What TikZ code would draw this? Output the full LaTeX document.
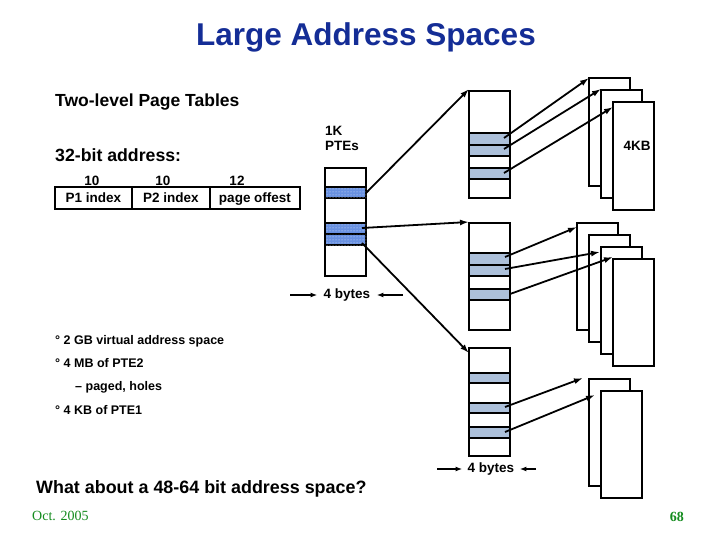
\documentclass[tikz,border=0pt]{standalone}
\usepackage{fontspec}
\setmainfont{Liberation Sans}
\newfontfamily\seriff{Liberation Serif}
\usetikzlibrary{arrows.meta,patterns}
\definecolor{titleblue}{RGB}{20,45,150}
\definecolor{slidegreen}{RGB}{20,140,30}
\definecolor{pteone}{RGB}{105,145,225}
\definecolor{ptetwo}{RGB}{172,192,218}
\tikzset{
  tbl/.style={draw, line width=2pt, fill=white},
  rowa/.style={draw, line width=2pt, fill=pteone, postaction={pattern=dots, pattern color=white!80!pteone}},
  rowb/.style={draw, line width=2pt, fill=ptetwo},
  pg/.style={draw, line width=2pt, fill=white},
  ptr/.style={line width=1.8pt, -{Latex[length=9pt,width=6pt]}},
  sptr/.style={line width=1.6pt, -{Latex[length=7pt,width=5pt]}},
  lbl/.style={font=\bfseries\fontsize{13.5}{15}\selectfont, inner sep=0pt},
  bul/.style={font=\bfseries\fontsize{12.5}{14}\selectfont, anchor=base west, inner sep=0pt},
}
\begin{document}
\begin{tikzpicture}[x=1pt,y=-1pt]
\useasboundingbox[fill=white] (0,0) rectangle (720,540);
% titles
\node[text=titleblue, font=\bfseries\fontsize{31.5}{34}\selectfont, inner sep=0pt] (title) at (366,37) {Large Address Spaces};
\node[font=\bfseries\fontsize{17.5}{19}\selectfont, anchor=base west, inner sep=0pt] (two) at (55,107) {Two-level Page Tables};
\node[font=\bfseries\fontsize{17.7}{19}\selectfont, anchor=base west, inner sep=0pt] (bits) at (55,162) {32-bit address:};
% address boxes
\draw[line width=1.8pt] (55,187) rectangle (132,209);
\draw[line width=1.8pt] (132,187) rectangle (210,209);
\draw[line width=1.8pt] (210,187) rectangle (300,209);
\node[lbl, anchor=base] (p1) at (93.5,203) {P1 index};
\node[lbl, anchor=base] (p2) at (171,203) {P2 index};
\node[lbl, anchor=base] (po) at (255,203) {page offest};
\node[lbl, anchor=base] (n1) at (92,186) {10};
\node[lbl, anchor=base] (n2) at (163,186) {10};
\node[lbl, anchor=base] (n3) at (237,186) {12};
% 1K PTEs
\node[lbl, anchor=north west, align=left] (kpte) at (325,126) {1K\\PTEs};
% PTE1 table
\draw[tbl] (325,168) rectangle (366,276);
\draw[rowa] (325,187) rectangle (366,198);
\draw[rowa] (325,223) rectangle (366,234);
\draw[rowa] (325,234) rectangle (366,245);
\coordinate (a1) at (366,193);
\coordinate (a2) at (362,228);
\coordinate (a3) at (362,243);
% PTE2 tables
\draw[tbl] (469,91) rectangle (510,198);
\draw[rowb] (469,133) rectangle (510,145);
\draw[rowb] (469,145) rectangle (510,156);
\draw[rowb] (469,168) rectangle (510,179);
\draw[tbl] (469,223) rectangle (510,330);
\draw[rowb] (469,253) rectangle (510,265);
\draw[rowb] (469,265) rectangle (510,276);
\draw[rowb] (469,289) rectangle (510,300);
\draw[tbl] (469,348) rectangle (510,456);
\draw[rowb] (469,373) rectangle (510,383);
\draw[rowb] (469,403) rectangle (510,413);
\draw[rowb] (469,427) rectangle (510,438);
\coordinate (t0) at (469,89);
\coordinate (m0) at (469,222);
\coordinate (b0) at (469,353);
% pages top
\draw[pg] (589,78) rectangle (630,186);
\draw[pg] (601,90) rectangle (642,198);
\draw[pg] (613,102) rectangle (654,210);
\node[lbl] (kb) at (637,146) {4KB};
% pages middle
\draw[pg] (577,223) rectangle (618,330);
\draw[pg] (589,235) rectangle (630,342);
\draw[pg] (601,247) rectangle (642,354);
\draw[pg] (613,259) rectangle (654,366);
% pages bottom
\draw[pg] (589,379) rectangle (630,486);
\draw[pg] (601,391) rectangle (642,498);
% PTE1 -> PTE2
\draw[ptr] (a1) -- (t0);
\draw[ptr] (a2) -- (m0);
\draw[ptr] (a3) -- (b0);
% PTE2 -> pages
\coordinate (t1) at (504,138); \coordinate (t2) at (504,149); \coordinate (t3) at (504,173);
\coordinate (m1) at (505,257); \coordinate (m2) at (505,269); \coordinate (m3) at (510,294);
\coordinate (b2) at (505,407); \coordinate (b3) at (505,432);
\draw[ptr] (t1) -- (589,78);
\draw[ptr] (t2) -- (601,89);
\draw[ptr] (t3) -- (613,107);
\draw[ptr] (m1) -- (577,227);
\draw[ptr] (m2) -- (600,252);
\draw[ptr] (m3) -- (613,257);
\draw[ptr] (b2) -- (583,378);
\draw[ptr] (b3) -- (595,395);
% 4 bytes labels
\node[lbl] (by1) at (347,295) {4 bytes};
\coordinate (by1l) at (290,295); \coordinate (by1r) at (403,295);
\draw[sptr] (by1l) -- ([xshift=-6pt]by1.west);
\draw[sptr] (by1r) -- ([xshift=6pt]by1.east);
\node[lbl] (by2) at (491,469) {4 bytes};
\coordinate (by2l) at (437,469); \coordinate (by2r) at (536,469);
\draw[sptr] (by2l) -- ([xshift=-5pt]by2.west);
\draw[sptr] (by2r) -- ([xshift=5pt]by2.east);
% bullets
\node[bul] (l1) at (55,344) {° 2 GB virtual address space};
\node[bul] (l2) at (55,367) {° 4 MB of PTE2};
\node[bul] (l3) at (75,390) {– paged, holes};
\node[bul] (l4) at (55,414) {° 4 KB of PTE1};
\node[font=\bfseries\fontsize{17.9}{19}\selectfont, anchor=base west, inner sep=0pt] (q) at (36,493) {What about a 48-64 bit address space?};
% footer
\node[text=slidegreen, font=\seriff\fontsize{14}{16}\selectfont, anchor=base west, inner sep=0pt] (date) at (32,520) {Oct. 2005};
\node[text=slidegreen, font=\seriff\bfseries\fontsize{14}{16}\selectfont, anchor=base east, inner sep=0pt] (pgno) at (684,521) {68};
\end{tikzpicture}
\end{document}
